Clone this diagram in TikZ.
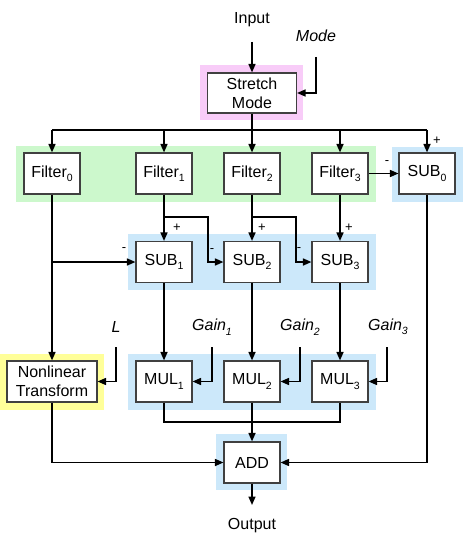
\documentclass[tikz,border=0pt]{standalone}
\usepackage{fontspec}
\setmainfont{Liberation Sans}
\usetikzlibrary{arrows.meta}
\definecolor{bgpink}{HTML}{F8CCF8}
\definecolor{bggreen}{HTML}{CCF8CC}
\definecolor{bgblue}{HTML}{CCE8FA}
\definecolor{bgyellow}{HTML}{FFFF99}
\definecolor{boxline}{HTML}{404040}
\newcommand\sbs[1]{\raisebox{-0.28em}{\fontsize{10.5}{10.5}\selectfont #1}}
\tikzset{
  blk/.style={draw=boxline, line width=1.1pt, fill=white, minimum width=56pt, minimum height=41pt, inner sep=0pt, align=center, font=\fontsize{16}{19}\selectfont},
  lbl/.style={inner sep=0pt, font=\fontsize{16}{19}\selectfont},
  sgn/.style={inner sep=0pt, font=\fontsize{13}{13}\selectfont},
  con/.style={line width=1.6pt},
  arr/.style={line width=1.6pt, -{Triangle[length=8.5pt,width=7pt]}},
}
\begin{document}
\begin{tikzpicture}[x=1pt,y=-1pt]
\useasboundingbox (0,0) rectangle (465,548);
% backgrounds
\fill[bgpink] (200,65) rectangle (303,120);
\fill[bggreen] (16,146) rectangle (376,202);
\fill[bgblue] (392,147) rectangle (463,202);
\fill[bgblue] (128,234) rectangle (376,290);
\fill[bgyellow] (0,354) rectangle (104,410);
\fill[bgblue] (128,354) rectangle (376,410);
\fill[bgblue] (216,434) rectangle (287,490);
% labels
\node[lbl] (in) at (252,20) {Input};
\node[lbl] (modelbl) at (316,36) {\itshape Mode};
\node[lbl] (Llbl) at (116,327) {\itshape L};
\node[lbl] (g1lbl) at (212,327) {\itshape Gain\sbs{1}};
\node[lbl] (g2lbl) at (300,327) {\itshape Gain\sbs{2}};
\node[lbl] (g3lbl) at (388,327) {\itshape Gain\sbs{3}};
\node[lbl] (out) at (252,526) {Output};
% blocks
\node[blk, minimum width=89pt, minimum height=40pt] (sm) at (252,93) {Stretch\\Mode};
\node[blk] (f0) at (52,173.5) {Filter\sbs{0}};
\node[blk] (f1) at (164,173.5) {Filter\sbs{1}};
\node[blk] (f2) at (252,173.5) {Filter\sbs{2}};
\node[blk] (f3) at (340,173.5) {Filter\sbs{3}};
\node[blk] (sub0) at (427,173.5) {SUB\sbs{0}};
\node[blk] (s1) at (164,262) {SUB\sbs{1}};
\node[blk] (s2) at (252,262) {SUB\sbs{2}};
\node[blk] (s3) at (340,262) {SUB\sbs{3}};
\node[blk, minimum width=90pt] (nl) at (52,381.5) {Nonlinear\\Transform};
\node[blk] (m1) at (164,381.5) {MUL\sbs{1}};
\node[blk] (m2) at (252,381.5) {MUL\sbs{2}};
\node[blk] (m3) at (340,381.5) {MUL\sbs{3}};
\node[blk] (add) at (252,462.5) {ADD};
% coordinates
\coordinate (inA) at (252,42);
\coordinate (modeA) at (316,57);
\coordinate (busL) at (52,130);
\coordinate (busR) at (427,130);
\coordinate (b1) at (208,217);
\coordinate (b2) at (296,217);
\coordinate (LA) at (116,347);
\coordinate (g1A) at (212,347);
\coordinate (g2A) at (300,347);
\coordinate (g3A) at (387,347);
\coordinate (mbus) at (164,422);
\coordinate (outA) at (252,505);
% connectors
\draw[arr] (inA) -- (sm);
\draw[arr] (modeA) |- (sm);
\draw[con] (sm) -- (sm |- busL);
\draw[con] (busL) -- (busR);
\draw[arr] (busL) -- (f0);
\draw[arr] (f1 |- busL) -- (f1);
\draw[arr] (f2 |- busL) -- (f2);
\draw[arr] (f3 |- busL) -- (f3);
\draw[arr] (busR) -- (sub0);
\draw[arr] (f3) -- (sub0);
\draw[arr] (f0) -- (nl);
\draw[arr] (f0 |- s1) -- (s1);
\draw[arr] (f1) -- (s1);
\draw[arr] (f1 |- b1) -- (b1) |- (s2);
\draw[arr] (f2) -- (s2);
\draw[arr] (f2 |- b2) -- (b2) |- (s3);
\draw[arr] (f3) -- (s3);
\draw[arr] (s1) -- (m1);
\draw[arr] (s2) -- (m2);
\draw[arr] (s3) -- (m3);
\draw[arr] (LA) |- (nl);
\draw[arr] (g1A) |- (m1);
\draw[arr] (g2A) |- (m2);
\draw[arr] (g3A) |- (m3);
\draw[con] (m1) -- (mbus) -- (m3 |- mbus) -- (m3);
\draw[arr] (m2) -- (add);
\draw[arr] (nl) |- (add);
\draw[arr] (sub0) |- (add);
\draw[arr] (add) -- (outA);
% signs
\node[sgn] (p0) at (437,141) {+};
\node[sgn] (n0) at (387,163) {-};
\node[sgn] (n1) at (124,250) {-};
\node[sgn] (p1) at (177,228) {+};
\node[sgn] (n2) at (212,251) {-};
\node[sgn] (p2) at (262,228) {+};
\node[sgn] (n3) at (299,250) {-};
\node[sgn] (p3) at (349,228) {+};
\end{tikzpicture}
\end{document}
